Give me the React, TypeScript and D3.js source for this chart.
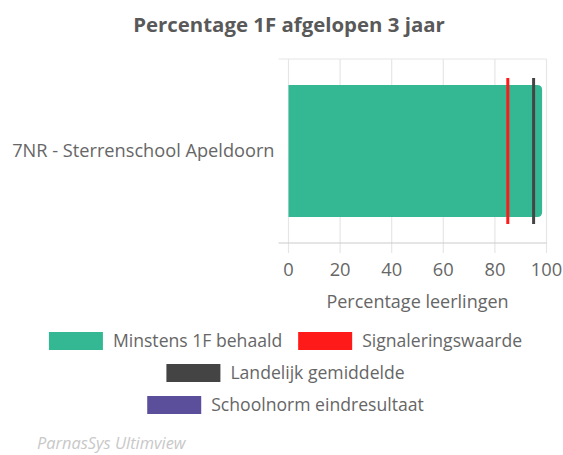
import React, { useEffect, useRef } from "react";
import * as d3 from "d3";

const categories = ["7NR - Sterrenschool Apeldoorn"];
const behaald = [98.3];
const signalering = [85];
const landelijk = [95];
const xTicks = [0, 20, 40, 60, 80, 100];

const legendItems = [
  { label: "Minstens 1F behaald", color: "#33b893" },
  { label: "Signaleringswaarde", color: "#ff1a1a" },
  { label: "Landelijk gemiddelde", color: "#444444" },
  { label: "Schoolnorm eindresultaat", color: "#5b4f9c" },
];

const FONT = "'Open Sans', sans-serif";

const App = () => {
  const ref = useRef<SVGSVGElement>(null);

  useEffect(() => {
    const svg = d3.select(ref.current);
    svg.selectAll("*").remove();

    const width = 563,
      height = 455;
    const margin = { top: 59, left: 288.5, right: 16.5, bottom: 212 };

    const x = d3
      .scaleLinear()
      .domain([0, 100])
      .range([margin.left, width - margin.right]);

    const y = d3
      .scaleBand()
      .domain(categories)
      .range([margin.top, height - margin.bottom])
      .paddingInner(0)
      .paddingOuter(0.197);

    const grid = "#e6e6e6";

    // title
    svg
      .append("text")
      .attr("x", 289)
      .attr("y", 32)
      .attr("text-anchor", "middle")
      .attr("font-family", FONT)
      .attr("font-weight", "bold")
      .attr("font-size", 20.4)
      .attr("fill", "#595959")
      .text("Percentage 1F afgelopen 3 jaar");

    // vertical grid + tick marks
    svg
      .append("g")
      .selectAll("line")
      .data(xTicks)
      .join("line")
      .attr("x1", (d) => x(d))
      .attr("x2", (d) => x(d))
      .attr("y1", margin.top)
      .attr("y2", height - margin.bottom + 10)
      .attr("stroke", grid)
      .attr("stroke-width", 1.2);

    // category band boundaries
    const bounds = [margin.top, height - margin.bottom];
    svg
      .append("g")
      .selectAll("line")
      .data(bounds)
      .join("line")
      .attr("x1", margin.left - 10)
      .attr("x2", x(100))
      .attr("y1", (d) => d)
      .attr("y2", (d) => d)
      .attr("stroke", (d, i) => (i === 0 ? grid : "#cccccc"))
      .attr("stroke-width", 1.2);

    // bars
    const r = 5;
    svg
      .append("g")
      .selectAll("path")
      .data(categories)
      .join("path")
      .attr("d", (d, i) => {
        const x0 = x(0),
          x1 = x(behaald[i]),
          y0 = y(d)!,
          y1 = y0 + y.bandwidth();
        return `M${x0},${y0}H${x1 - r}Q${x1},${y0} ${x1},${y0 + r}V${y1 - r}Q${x1},${y1} ${x1 - r},${y1}H${x0}Z`;
      })
      .attr("fill", "#33b893");

    // reference lines
    const ext = 7;
    const refs = [
      { vals: signalering, color: "#ff1a1a" },
      { vals: landelijk, color: "#444444" },
    ];
    refs.forEach((s) => {
      svg
        .append("g")
        .selectAll("line")
        .data(categories)
        .join("line")
        .attr("x1", (d, i) => x(s.vals[i]))
        .attr("x2", (d, i) => x(s.vals[i]))
        .attr("y1", (d) => y(d)! - ext)
        .attr("y2", (d) => y(d)! + y.bandwidth() + ext)
        .attr("stroke", s.color)
        .attr("stroke-width", 3);
    });

    // category labels
    svg
      .append("g")
      .selectAll("text")
      .data(categories)
      .join("text")
      .attr("x", margin.left - 14)
      .attr("y", (d) => y(d)! + y.bandwidth() / 2)
      .attr("dy", "0.35em")
      .attr("text-anchor", "end")
      .attr("font-family", FONT)
      .attr("font-size", 18.2)
      .attr("fill", "#666")
      .text((d) => d);

    // x tick labels
    svg
      .append("g")
      .selectAll("text")
      .data(xTicks)
      .join("text")
      .attr("x", (d) => x(d))
      .attr("y", 276)
      .attr("text-anchor", "middle")
      .attr("font-family", FONT)
      .attr("font-size", 18.3)
      .attr("fill", "#666")
      .text((d) => d);

    svg
      .append("text")
      .attr("x", x(50))
      .attr("y", 308)
      .attr("text-anchor", "middle")
      .attr("font-family", FONT)
      .attr("font-size", 18)
      .attr("fill", "#666")
      .text("Percentage leerlingen");

    // legend
    const rows = [
      { items: [0, 1], y: 332 },
      { items: [2], y: 364 },
      { items: [3], y: 396 },
    ];
    const sw = 54,
      sh = 18,
      gap = 10,
      itemGap = 8;
    const lg = svg.append("g").attr("font-family", FONT).attr("font-size", 17.6);
    rows.forEach((row) => {
      const g = lg.append("g");
      let cx = 0;
      row.items.forEach((idx) => {
        const item = legendItems[idx];
        g.append("rect")
          .attr("x", cx)
          .attr("y", row.y)
          .attr("width", sw)
          .attr("height", sh)
          .attr("fill", item.color);
        const t = g
          .append("text")
          .attr("x", cx + sw + gap)
          .attr("y", row.y + sh / 2)
          .attr("dy", "0.35em")
          .attr("fill", "#666")
          .text(item.label);
        const w = (t.node() as SVGTextElement).getComputedTextLength();
        cx += sw + gap + w + itemGap * 2;
      });
      const total = cx - itemGap * 2;
      g.attr("transform", `translate(${(width - total) / 2 + 4},0)`);
    });

    // credits
    svg
      .append("text")
      .attr("x", 37)
      .attr("y", 449)
      .attr("font-family", FONT)
      .attr("font-style", "italic")
      .attr("font-size", 16.4)
      .attr("fill", "#c8c8c8")
      .text("ParnasSys Ultimview");
  }, []);

  return (
    <svg
      ref={ref}
      width={563}
      height={455}
      style={{ position: "absolute", left: 0, top: 0, background: "#fff" }}
    />
  );
};

export default App;
